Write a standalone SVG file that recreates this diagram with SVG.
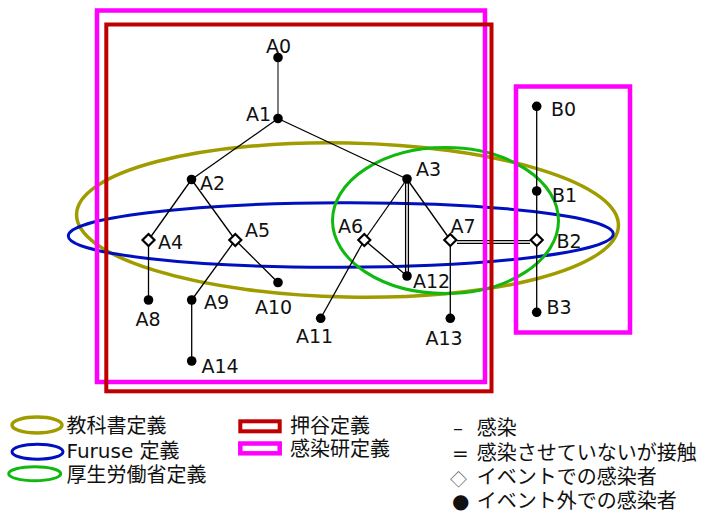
<svg xmlns="http://www.w3.org/2000/svg" xmlns:xlink="http://www.w3.org/1999/xlink" width="719" height="519" viewBox="0 0 719 519">
<style>
.bg{fill:#fff}
.olive{fill:none;stroke:#A09C00;stroke-width:3.5}
.blue{fill:none;stroke:#0010BE;stroke-width:3}
.green{fill:none;stroke:#10B810;stroke-width:3}
.mag{fill:none;stroke:#FF00FF;stroke-width:4.5}
.red{fill:none;stroke:#C00000;stroke-width:4}
.e{stroke:#000;stroke-width:1.3;fill:none}
.g{stroke:#707070;stroke-width:1.8;fill:none}
.dot{fill:#000}
.dia{fill:#fff;stroke:#000;stroke-width:2.2}
.lbl{font-family:"DejaVu Sans","Noto Sans CJK JP",sans-serif;font-size:19px;fill:#111}
.leg{font-family:"DejaVu Sans","Noto Sans CJK JP",sans-serif;font-size:20px;fill:#111}
.sym{font-family:"DejaVu Sans",sans-serif;font-size:20px;fill:#111}
.cjk{font-family:"Noto Sans CJK JP",sans-serif;font-size:17px;fill:#555}
</style>
<defs>
<path id="dm" d="M0,-6 L6,0 L0,6 L-6,0Z"/>
</defs>
<rect class="bg" x="0" y="0" width="719" height="519"/>

<g id="groups">
<ellipse class="olive" cx="347.5" cy="220" rx="271" ry="77" transform="rotate(1.2 347.5 220)"/>
<ellipse class="blue" cx="340.8" cy="235" rx="272.5" ry="32.3" transform="rotate(-0.2 340.8 235)"/>
<ellipse class="green" cx="445.5" cy="220.5" rx="113" ry="73"/>
</g>

<g id="connectors">
<line class="g" x1="278" y1="57.5" x2="278" y2="118.5"/>
<line class="e" x1="278" y1="118.5" x2="191.5" y2="179.5"/>
<line class="e" x1="278" y1="118.5" x2="407" y2="179"/>
<line class="e" x1="191.5" y1="179.5" x2="148.5" y2="240"/>
<line class="e" x1="191.5" y1="179.5" x2="235.3" y2="240"/>
<line class="e" x1="148.5" y1="240" x2="148.5" y2="300"/>
<line class="e" x1="235.3" y1="240" x2="191.7" y2="300"/>
<line class="e" x1="235.3" y1="240" x2="278" y2="282.5"/>
<line class="e" x1="191.7" y1="300" x2="191.7" y2="361"/>
<line class="e" x1="407" y1="179" x2="364.3" y2="240"/>
<line class="e" x1="364.3" y1="240" x2="320.7" y2="318.3"/>
<line class="e" x1="364.3" y1="240" x2="407" y2="276"/>
<line class="e" x1="405.6" y1="179" x2="405.6" y2="276"/>
<line class="e" x1="408.4" y1="179" x2="408.4" y2="276"/>
<line class="e" x1="407" y1="179" x2="450.3" y2="240"/>
<line class="e" x1="450.3" y1="240" x2="450.3" y2="318.3"/>
<line class="e" x1="457" y1="240.6" x2="530" y2="240.6"/>
<line class="e" x1="457" y1="243.4" x2="530" y2="243.4"/>
<line class="e" x1="536.7" y1="106.3" x2="536.7" y2="312.3"/>
</g>

<g id="frames">
<rect class="mag" x="97" y="10.5" width="388" height="371.5"/>
<rect class="red" x="106.3" y="24.5" width="385.2" height="366.8"/>
<rect class="mag" x="516" y="86.5" width="114" height="246"/>
</g>

<g id="A0"><circle class="dot" cx="278" cy="57.5" r="4.8"/><text class="lbl" x="266" y="53">A0</text></g>
<g id="A1"><circle class="dot" cx="278" cy="118.5" r="4.8"/><text class="lbl" x="246" y="121">A1</text></g>
<g id="A2"><circle class="dot" cx="191.5" cy="179.5" r="4.8"/><text class="lbl" x="200" y="190">A2</text></g>
<g id="A3"><circle class="dot" cx="407" cy="179" r="4.8"/><text class="lbl" x="416" y="176">A3</text></g>
<g id="A4"><use xlink:href="#dm" class="dia" x="148.5" y="240"/><text class="lbl" x="158" y="249">A4</text></g>
<g id="A5"><use xlink:href="#dm" class="dia" x="235.3" y="240"/><text class="lbl" x="245" y="237">A5</text></g>
<g id="A6"><use xlink:href="#dm" class="dia" x="364.3" y="240"/><text class="lbl" x="338" y="233">A6</text></g>
<g id="A7"><use xlink:href="#dm" class="dia" x="450.3" y="240"/><text class="lbl" x="450.5" y="233">A7</text></g>
<g id="A8"><circle class="dot" cx="148.5" cy="300" r="4.8"/><text class="lbl" x="135.5" y="326">A8</text></g>
<g id="A9"><circle class="dot" cx="191.7" cy="300" r="4.8"/><text class="lbl" x="204" y="309">A9</text></g>
<g id="A10"><circle class="dot" cx="278" cy="282.5" r="4.8"/><text class="lbl" x="255" y="314">A10</text></g>
<g id="A11"><circle class="dot" cx="320.7" cy="318.3" r="4.8"/><text class="lbl" x="296" y="343">A11</text></g>
<g id="A12"><circle class="dot" cx="407" cy="276" r="4.8"/><text class="lbl" x="413" y="288">A12</text></g>
<g id="A13"><circle class="dot" cx="450.3" cy="318.3" r="4.8"/><text class="lbl" x="425.5" y="345">A13</text></g>
<g id="A14"><circle class="dot" cx="191.7" cy="361" r="4.8"/><text class="lbl" x="201.5" y="373">A14</text></g>
<g id="B0"><circle class="dot" cx="536.7" cy="106.3" r="4.8"/><text class="lbl" x="551" y="116">B0</text></g>
<g id="B1"><circle class="dot" cx="536.7" cy="191" r="4.8"/><text class="lbl" x="552" y="202">B1</text></g>
<g id="B2"><use xlink:href="#dm" class="dia" x="536.7" y="240"/><text class="lbl" x="556.5" y="248">B2</text></g>
<g id="B3"><circle class="dot" cx="536.7" cy="312.3" r="4.8"/><text class="lbl" x="546.5" y="313.5">B3</text></g>

<g id="legend">
<ellipse class="olive" cx="37" cy="425" rx="25" ry="8"/>
<text class="leg" x="66.5" y="433">教科書定義</text>
<ellipse class="blue" cx="37.5" cy="451.7" rx="25.5" ry="7.5"/>
<text class="leg" x="66.5" y="457.5">Furuse 定義</text>
<ellipse class="green" cx="34.7" cy="473.7" rx="26" ry="7"/>
<text class="leg" x="66.5" y="481.5">厚生労働省定義</text>
<rect class="red" x="240.3" y="421.3" width="39.4" height="10"/>
<text class="leg" x="290" y="433">押谷定義</text>
<rect class="mag" x="240.3" y="443.5" width="39.4" height="9.8"/>
<text class="leg" x="290" y="455.5">感染研定義</text>
<text class="leg"><tspan class="sym" x="453" y="435">–</tspan><tspan x="476.7" y="435">感染</tspan></text>
<text class="leg"><tspan class="sym" x="452" y="460.3">=</tspan><tspan x="476.7" y="460.3">感染させていないが接触</tspan></text>
<text class="leg"><tspan class="cjk" x="450" y="485.5">◇</tspan><tspan x="476.7" y="483.5">イベントでの感染者</tspan></text>
<text class="leg"><tspan class="sym" x="452" y="508">●</tspan><tspan x="476.7" y="508">イベント外での感染者</tspan></text>
</g>
</svg>
